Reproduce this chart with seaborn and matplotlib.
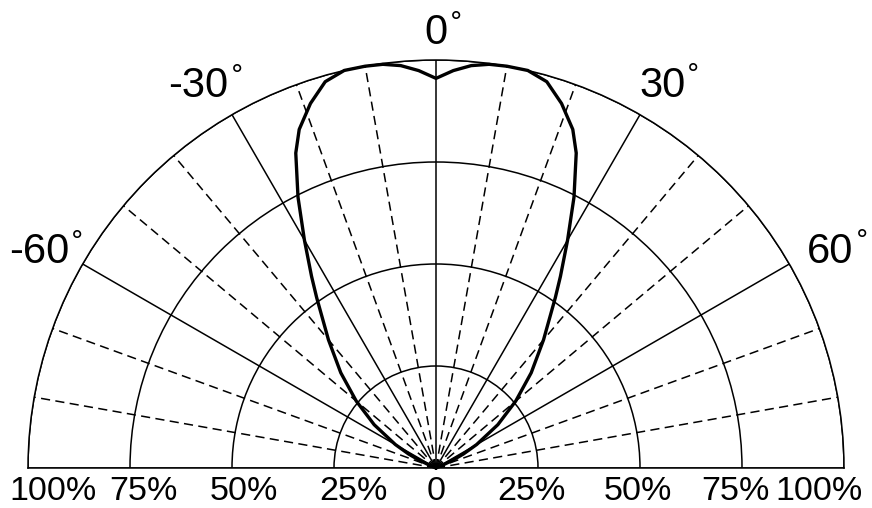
import numpy as np
import pandas as pd
import matplotlib
matplotlib.use("Agg")
import matplotlib.pyplot as plt
import seaborn as sns

# ---- data (angle in degrees, relative intensity 0..1) ----
angles_deg = [-90, -70, -68, -65, -63, -60, -55, -50, -45, -40, -35, -33, -30, -27,
              -24, -22, -19, -16, -13, -10, -7.5, -5, -2.5, 0,
              2.5, 5, 7.5, 10, 13, 16, 19, 22, 24, 27, 30, 33, 35, 40, 45, 50,
              55, 60, 63, 65, 68, 70, 90]
intensity = [0.0, 0.0, 0.012, 0.045, 0.075, 0.115, 0.185, 0.255, 0.33, 0.41, 0.51, 0.56, 0.645, 0.745,
             0.845, 0.895, 0.945, 0.985, 1.0, 1.0, 0.998, 0.99, 0.975, 0.955,
             0.975, 0.99, 0.998, 1.0, 1.0, 0.985, 0.945, 0.895, 0.845, 0.745, 0.645, 0.56, 0.51, 0.41, 0.33, 0.255,
             0.185, 0.115, 0.075, 0.045, 0.012, 0.0, 0.0]

major_angles = [-90, -60, -30, 0, 30, 60, 90]
minor_angles = [-80, -70, -50, -40, -20, -10, 10, 20, 40, 50, 70, 80]
radial_ticks = [0.25, 0.5, 0.75, 1.0]

angle_labels = ["-60", "-30", "0", "30", "60"]
angle_label_theta = [-61.5, -31.9, 0, 30.6, 61.25]
angle_label_r = [1.107, 1.102, 1.066, 1.089, 1.103]

bottom_labels = ["100%", "75%", "50%", "25%", "0", "25%", "50%", "75%", "100%"]
bottom_label_theta = [-90, -90, -90, -90, 0, 90, 90, 90, 90]
bottom_label_r = [0.938, 0.716, 0.471, 0.202, 0.0, 0.235, 0.496, 0.735, 0.939]

df = pd.DataFrame({"theta": np.deg2rad(angles_deg), "r": intensity})

sns.set_theme(style="white")
plt.rcParams["font.family"] = ["Liberation Sans", "DejaVu Sans"]
plt.rcParams["mathtext.fontset"] = "dejavusans"

W, H = 872, 508
fig = plt.figure(figsize=(W / 100, H / 100), dpi=100)
fig.patch.set_facecolor("white")

# centre (px from top-left) and outer radius; the half-disc sits in the
# middle half of a square polar axes box
cx, cy, R = 436, 468, 408
side = 2 * R
bottom_px = (H - cy) - side / 4
ax = fig.add_axes([(cx - R) / W, bottom_px / H, side / W, side / H], projection="polar")
ax.set_aspect("auto")
ax.patch.set_alpha(0)
ax.set_theta_zero_location("N")
ax.set_theta_direction(-1)
ax.set_thetamin(-90)
ax.set_thetamax(90)
ax.set_rlim(0, 1)

ax.set_xticks(np.deg2rad(major_angles))
ax.set_xticks(np.deg2rad(minor_angles), minor=True)
ax.set_xticklabels([])
ax.set_yticks(radial_ticks)
ax.set_yticklabels([])
ax.tick_params(which="both", length=0)

glw = 1.1
ax.xaxis.grid(True, which="major", color="black", linewidth=glw, linestyle="-")
ax.xaxis.grid(True, which="minor", color="black", linewidth=glw, linestyle=(0, (6, 3.5)))
ax.yaxis.grid(True, which="major", color="black", linewidth=glw, linestyle="-")
for sp in ax.spines.values():
    sp.set_color("black")
    sp.set_linewidth(glw)

sns.lineplot(data=df, x="theta", y="r", ax=ax, color="black", linewidth=2.4,
             sort=False, estimator=None)
for ln in ax.lines:
    ln.set_clip_on(False)
ax.set_xlabel("")
ax.set_ylabel("")

for s, th, r in zip(angle_labels, angle_label_theta, angle_label_r):
    t = ax.text(np.deg2rad(th), r, s, fontsize=30, ha="center", va="center",
                color="black", clip_on=False)
    ax.annotate(r"$\circ$", xy=(1, 1), xycoords=t, xytext=(4.5, -0.5),
                textcoords="offset points", ha="center", va="center",
                fontsize=19, color="black", annotation_clip=False)

for s, th, r in zip(bottom_labels, bottom_label_theta, bottom_label_r):
    ax.annotate(s, xy=(np.deg2rad(th), r), xytext=(0, -16.8),
                textcoords="offset points", ha="center", va="center",
                fontsize=24.5, color="black", annotation_clip=False)

fig.savefig("out.png", dpi=100, facecolor="white")
